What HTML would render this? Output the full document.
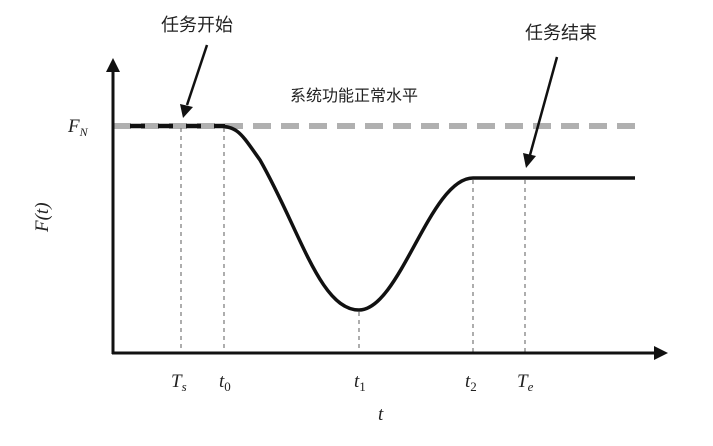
<!DOCTYPE html>
<html><head><meta charset="utf-8"><style>body{margin:0;background:#fff}</style></head><body>
<svg width="713" height="441" viewBox="0 0 713 441" xmlns="http://www.w3.org/2000/svg" font-family="Liberation Serif, serif">
<line x1="113" y1="126" x2="640" y2="126" stroke="#b0b0b0" stroke-width="6" stroke-dasharray="18,10"/>
<line x1="113" y1="126" x2="130" y2="126" stroke="#b0b0b0" stroke-width="6"/>
<line x1="130" y1="126" x2="225" y2="126" stroke="#111" stroke-width="4.5" stroke-dasharray="15,13"/>
<g stroke="#777" stroke-width="1.2" stroke-dasharray="4,4">
<line x1="181" y1="128" x2="181" y2="352"/>
<line x1="224" y1="128" x2="224" y2="352"/>
<line x1="359" y1="312" x2="359" y2="352"/>
<line x1="473" y1="180" x2="473" y2="352"/>
<line x1="525" y1="180" x2="525" y2="352"/>
</g>
<path d="M215,126 C238,126 240,132 260,160 C300,230 320,310 359,310 C400,310 430,178 473,178 L635,178" fill="none" stroke="#111" stroke-width="3.5"/>
<line x1="113" y1="354" x2="113" y2="70" stroke="#111" stroke-width="3"/>
<path d="M106,72 L113,58 L120,72 Z" fill="#111"/>
<line x1="112" y1="353" x2="656" y2="353" stroke="#111" stroke-width="3"/>
<path d="M654,346 L668,353 L654,360 Z" fill="#111"/>
<line x1="207" y1="45" x2="187" y2="105" stroke="#111" stroke-width="2.5"/>
<path d="M180,104 L183,118 L193,107 Z" fill="#111"/>
<line x1="557" y1="57" x2="530" y2="155" stroke="#111" stroke-width="2.5"/>
<path d="M523,153 L526,168 L536,156 Z" fill="#111"/>
<g font-family="Liberation Sans, Noto Sans CJK SC, sans-serif" font-size="18" fill="#222">
<text x="161" y="31">任务开始</text>
<text x="525" y="39">任务结束</text>
<text x="290" y="101" font-size="16">系统功能正常水平</text>
</g>
<g font-style="italic" font-size="19" fill="#222">
<text x="68" y="132">F<tspan font-size="12" dy="4">N</tspan></text>
<text transform="translate(48,232) rotate(-90)">F(<tspan>t</tspan>)</text>
<text x="171" y="387">T<tspan font-size="13" dy="4">s</tspan></text>
<text x="219" y="387">t<tspan font-size="13" dy="4" font-style="normal">0</tspan></text>
<text x="354" y="387">t<tspan font-size="13" dy="4" font-style="normal">1</tspan></text>
<text x="465" y="387">t<tspan font-size="13" dy="4" font-style="normal">2</tspan></text>
<text x="517" y="387">T<tspan font-size="13" dy="4">e</tspan></text>
<text x="378" y="420">t</text>
</g>
</svg>
</body></html>
